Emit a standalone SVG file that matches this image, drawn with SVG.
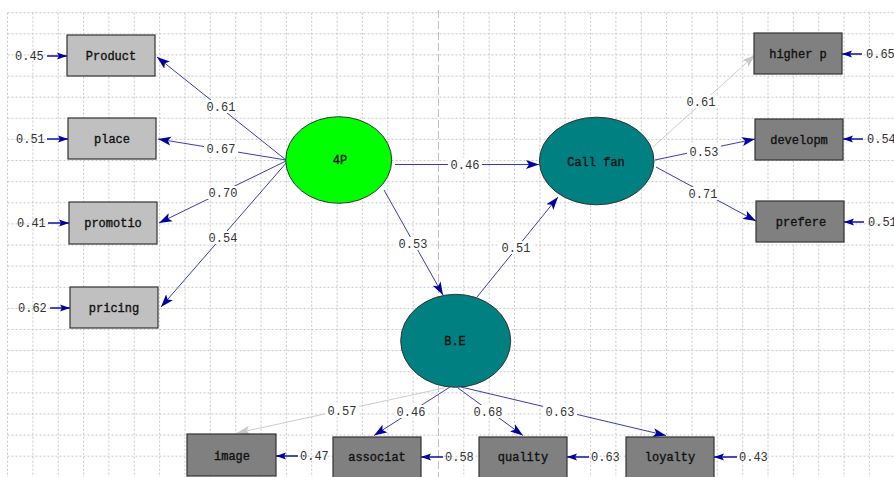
<svg xmlns="http://www.w3.org/2000/svg" width="894" height="477" viewBox="0 0 894 477">
<style>
.grid{stroke:#c8c8c8;stroke-width:1;stroke-dasharray:2,2;fill:none}
.axis{stroke:#c0c0c0;stroke-width:1;stroke-dasharray:8,3;fill:none}
.box1{fill:#c0c0c0;stroke:#333;stroke-width:1.2}
.box2{fill:#808080;stroke:#333;stroke-width:1.2}
.lat{stroke:#333;stroke-width:1}
.nl{font-family:"Liberation Mono","Courier New",monospace;font-size:12px;fill:#111;text-anchor:middle;stroke:#111;stroke-width:0.35}
.el{font-family:"Liberation Mono","Courier New",monospace;font-size:12px;fill:#333;text-anchor:middle}
.bg{fill:#fff}
.err{font-family:"Liberation Mono","Courier New",monospace;font-size:12px;fill:#333}
.c{stroke:#3a3ab8;stroke-width:1;fill:none;marker-end:url(#ah)}
.g{stroke:#cccccc;stroke-width:1;fill:none;marker-end:url(#ag)}
.e{stroke:#1010a0;stroke-width:1.5;fill:none;marker-end:url(#ae)}
</style>
<defs>
<marker id="ah" viewBox="-13 -5 14 10" refX="0" refY="0" markerWidth="14" markerHeight="10" markerUnits="userSpaceOnUse" orient="auto">
<path d="M0,0 L-13,-4.5 L-10,0 L-13,4.5 z" fill="#0000a0"/>
</marker>
<marker id="ag" viewBox="-13 -5 14 10" refX="0" refY="0" markerWidth="14" markerHeight="10" markerUnits="userSpaceOnUse" orient="auto">
<path d="M0,0 L-13,-4.5 L-10,0 L-13,4.5 z" fill="#c8c8c8"/>
</marker>
<marker id="ae" viewBox="-10 -4 11 8" refX="0" refY="0" markerWidth="11" markerHeight="8" markerUnits="userSpaceOnUse" orient="auto">
<path d="M0,0 L-10,-3.5 L-8,0 L-10,3.5 z" fill="#0000a0"/>
</marker>
</defs>
<rect width="894" height="477" fill="#fff"/>
<g id="grid">
<path class="grid" d="M7.5,12.7V477 M32.9,12.7V477 M58.2,12.7V477 M83.6,12.7V477 M108.9,12.7V477 M134.3,12.7V477 M159.6,12.7V477 M185,12.7V477 M210.3,12.7V477 M235.7,12.7V477 M261,12.7V477 M286.4,12.7V477 M311.7,12.7V477 M337.1,12.7V477 M362.4,12.7V477 M387.8,12.7V477 M413.1,12.7V477 M463.8,12.7V477 M489.2,12.7V477 M514.5,12.7V477 M539.9,12.7V477 M565.2,12.7V477 M590.6,12.7V477 M615.9,12.7V477 M641.3,12.7V477 M666.6,12.7V477 M692,12.7V477 M717.3,12.7V477 M742.7,12.7V477 M768,12.7V477 M793.4,12.7V477 M818.7,12.7V477 M844.1,12.7V477 M869.4,12.7V477
M7.5,12.7H894 M7.5,33.8H894 M7.5,54.9H894 M7.5,76.1H894 M7.5,97.2H894 M7.5,118.3H894 M7.5,139.4H894 M7.5,160.5H894 M7.5,181.7H894 M7.5,202.8H894 M7.5,223.9H894 M7.5,245H894 M7.5,266.1H894 M7.5,287.3H894 M7.5,308.4H894 M7.5,329.5H894 M7.5,350.6H894 M7.5,371.7H894 M7.5,392.9H894 M7.5,414H894 M7.5,435.1H894 M7.5,456.2H894"/>
<path class="axis" d="M438.5,10V477"/>
</g>
<g id="connectors">
<path class="c" d="M286,160 L157,57"/>
<path class="c" d="M286,160 L158,139"/>
<path class="c" d="M286,161 L159,223"/>
<path class="c" d="M287,162 L161,307"/>
<path class="c" d="M395,164.5 L539,164.5"/>
<path class="c" d="M384,190 L443,295"/>
<path class="c" d="M477,297 L558,197"/>
<path class="g" d="M653,147 L755,55"/>
<path class="c" d="M655,160 L755,139"/>
<path class="c" d="M656,167 L756,221"/>
<path class="g" d="M444,388 L237,433"/>
<path class="c" d="M450,387 L374,435.5"/>
<path class="c" d="M458,388 L523,435.5"/>
<path class="c" d="M461,387 L666,435.5"/>
<path class="e" d="M47,56 L67,56"/>
<path class="e" d="M47,139 L68,139"/>
<path class="e" d="M48,223 L69,223"/>
<path class="e" d="M50,308 L70,308"/>
<path class="e" d="M862,54 L842,54"/>
<path class="e" d="M863,139 L843,139"/>
<path class="e" d="M864,222 L844,222"/>
<path class="e" d="M298,456 L276,456"/>
<path class="e" d="M443,457 L421,457"/>
<path class="e" d="M589,457 L567,457"/>
<path class="e" d="M737,457 L714,457"/>
<rect class="bg" x="204" y="100" width="34" height="13"/><text class="el" x="221" y="111">0.61</text>
<rect class="bg" x="204" y="142" width="34" height="13"/><text class="el" x="221" y="153">0.67</text>
<rect class="bg" x="206" y="186" width="34" height="13"/><text class="el" x="223" y="197">0.70</text>
<rect class="bg" x="206" y="231" width="34" height="13"/><text class="el" x="223" y="242">0.54</text>
<rect class="bg" x="448" y="158" width="34" height="13"/><text class="el" x="465" y="169">0.46</text>
<rect class="bg" x="396" y="237" width="34" height="13"/><text class="el" x="413" y="248">0.53</text>
<rect class="bg" x="499" y="241" width="34" height="13"/><text class="el" x="516" y="252">0.51</text>
<rect class="bg" x="684" y="95" width="34" height="13"/><text class="el" x="701" y="106">0.61</text>
<rect class="bg" x="687" y="145" width="34" height="13"/><text class="el" x="704" y="156">0.53</text>
<rect class="bg" x="686" y="187" width="34" height="13"/><text class="el" x="703" y="198">0.71</text>
<rect class="bg" x="325" y="404" width="34" height="13"/><text class="el" x="342" y="415">0.57</text>
<rect class="bg" x="394" y="405" width="34" height="13"/><text class="el" x="411" y="416">0.46</text>
<rect class="bg" x="471" y="405" width="34" height="13"/><text class="el" x="488" y="416">0.68</text>
<rect class="bg" x="543" y="405" width="34" height="13"/><text class="el" x="560" y="416">0.63</text>
<text class="err" x="15" y="60">0.45</text>
<text class="err" x="16" y="143">0.51</text>
<text class="err" x="17" y="227">0.41</text>
<text class="err" x="18" y="312">0.62</text>
<text class="err" x="866" y="58">0.65</text>
<text class="err" x="867" y="143">0.54</text>
<text class="err" x="868" y="226">0.51</text>
<text class="err" x="300" y="460">0.47</text>
<text class="err" x="445" y="461">0.58</text>
<text class="err" x="591" y="461">0.63</text>
<text class="err" x="739" y="461">0.43</text>
</g>
<g id="n-product"><rect class="box1" x="67" y="35" width="88" height="41"/><text class="nl" x="111" y="60">Product</text></g>
<g id="n-place"><rect class="box1" x="68" y="118" width="88" height="41"/><text class="nl" x="112" y="143">place</text></g>
<g id="n-promotio"><rect class="box1" x="69" y="202" width="88" height="42"/><text class="nl" x="113" y="227">promotio</text></g>
<g id="n-pricing"><rect class="box1" x="70" y="287" width="88" height="41"/><text class="nl" x="114" y="312">pricing</text></g>
<g id="n-4p"><ellipse class="lat" cx="338.7" cy="160" rx="53" ry="43.3" fill="#00ff00"/><text class="nl" x="340" y="164">4P</text></g>
<g id="n-callfan"><ellipse class="lat" cx="596.7" cy="161" rx="57.3" ry="43.8" fill="#008080"/><text class="nl" x="596" y="166">Call fan</text></g>
<g id="n-be"><ellipse class="lat" cx="455.7" cy="340.8" rx="55" ry="46.5" fill="#008080"/><text class="nl" x="455" y="345">B.E</text></g>
<g id="n-higherp"><rect class="box2" x="754" y="33" width="88" height="41"/><text class="nl" x="798" y="58">higher p</text></g>
<g id="n-developm"><rect class="box2" x="755" y="119" width="88" height="41"/><text class="nl" x="799" y="144">developm</text></g>
<g id="n-prefere"><rect class="box2" x="756" y="201" width="88" height="41"/><text class="nl" x="801" y="226">prefere</text></g>
<g id="n-image"><rect class="box2" x="187" y="434" width="89" height="42"/><text class="nl" x="232" y="460">image</text></g>
<g id="n-associat"><rect class="box2" x="333" y="437" width="88" height="42"/><text class="nl" x="377" y="461">associat</text></g>
<g id="n-quality"><rect class="box2" x="479" y="437" width="88" height="42"/><text class="nl" x="523" y="461">quality</text></g>
<g id="n-loyalty"><rect class="box2" x="626" y="437" width="88" height="42"/><text class="nl" x="670" y="461">loyalty</text></g>
</svg>
